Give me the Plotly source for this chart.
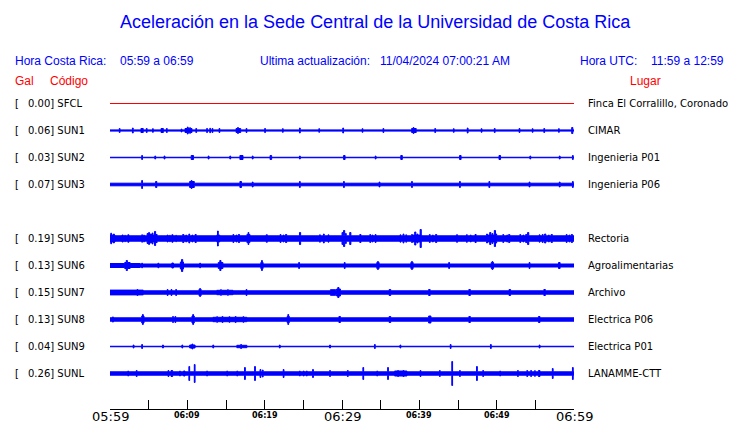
import plotly.graph_objects as go

# ---------------- data ----------------
codes = ["SFCL", "SUN1", "SUN2", "SUN3", "SUN5", "SUN6", "SUN7", "SUN8", "SUN9", "SUNL"]
gal = [0.00, 0.06, 0.03, 0.07, 0.19, 0.13, 0.15, 0.13, 0.04, 0.26]
places = ["Finca El Corralillo, Coronado", "CIMAR", "Ingenieria P01", "Ingenieria P06",
          "Rectoria", "Agroalimentarias", "Archivo", "Electrica P06", "Electrica P01", "LANAMME-CTT"]
slots = [0, 1, 2, 3, 5, 6, 7, 8, 9, 10]          # row slot (slot 4 empty)
base_amp = [0.0, 0.6, 0.25, 1.3, 2.7, 1.5, 1.7, 1.7, 0.25, 1.7]   # quiet half-amplitude (px)

tick_minutes = [0, 5, 10, 15, 20, 25, 30, 35, 40, 45, 50, 55, 60]
tick_labels = ["05:59", "", "06:09", "", "06:19", "", "06:29", "", "06:39", "", "06:49", "", "06:59"]
big_ticks = ["05:59", "06:29", "06:59"]

# bursts: (start minute, end minute, half-amplitude px)
ev_sfcl = []
ev_sun1 = [(1.2, 1.3, 2), (2.9, 3.0, 2.5), (4.0, 4.3, 2), (4.7, 4.8, 2), (5.5, 5.6, 1.8), (6.6, 6.9, 2),
           (7.3, 7.4, 2), (9.2, 9.3, 1.5), (9.7, 10.6, 2.0), (10.0, 10.1, 3.5), (10.3, 10.4, 2.8),
           (11.1, 11.2, 2), (12.5, 12.6, 2), (12.9, 13.0, 2.2), (13.2, 13.3, 2), (14.1, 14.2, 2),
           (16.3, 16.9, 2.0), (16.5, 16.6, 3), (17.6, 17.7, 2), (20.0, 20.1, 2), (22.3, 22.4, 1.8),
           (24.5, 24.6, 2.5), (27.0, 27.1, 1.8), (30.1, 30.2, 2.5), (32.6, 32.7, 1.8), (35.3, 35.4, 2),
           (39.0, 39.6, 2.0), (39.2, 39.3, 3), (42.0, 42.1, 2), (44.4, 44.5, 1.8), (46.2, 46.3, 2.5),
           (48.0, 48.1, 1.8), (49.7, 49.8, 2), (52.9, 53.0, 2), (54.6, 54.7, 1.8), (56.1, 56.2, 2),
           (58.0, 58.1, 1.8), (59.7, 59.85, 3)]
ev_sun2 = [(4.1, 4.2, 2), (5.8, 5.9, 1.5), (7.0, 7.1, 1.5), (10.5, 10.8, 2), (12.7, 12.8, 1.5),
           (15.5, 15.6, 1.5), (16.8, 17.2, 2), (18.4, 18.5, 1.5), (20.7, 20.9, 2), (24.5, 24.6, 1.5),
           (30.2, 30.4, 2), (34.3, 34.4, 1.5), (37.6, 37.8, 2), (45.2, 45.4, 2), (50.3, 50.5, 2),
           (54.3, 54.4, 1.5), (58.1, 58.2, 1.5), (59.8, 59.9, 2)]
ev_sun3 = [(4.1, 4.2, 4), (5.9, 6.05, 3), (10.3, 10.9, 3), (10.5, 10.6, 4), (16.8, 17.0, 3), (18.4, 18.5, 2.5),
           (24.5, 24.6, 3), (30.2, 30.3, 3), (34.8, 34.9, 2.5), (39.0, 39.1, 3), (45.2, 45.3, 3),
           (49.0, 49.1, 3), (54.2, 54.3, 2.5), (58.1, 58.2, 2.5), (59.8, 59.9, 3)]
ev_sun5 = [(0.0, 0.65, 3.5), (0.1, 0.2, 5.3), (0.45, 0.55, 4.5),
           (1.55, 1.7, 3.5), (1.9, 2.0, 3.2), (2.3, 2.45, 3.7),
           (4.1, 4.2, 3.7), (4.35, 4.45, 3.4),
           (4.8, 6.1, 3.4), (4.8, 4.95, 5), (5.0, 5.1, 6), (5.2, 5.35, 4.5), (5.45, 5.55, 5.5),
           (5.75, 5.9, 7), (5.95, 6.1, 4),
           (7.4, 7.5, 3.5), (7.7, 7.8, 3.2), (8.0, 8.15, 3.7), (8.5, 8.6, 3.2),
           (9.4, 9.55, 4), (9.8, 9.9, 3.5), (10.2, 10.3, 4.5), (10.6, 10.7, 3.5), (11.0, 11.15, 4),
           (13.8, 14.2, 3.4), (13.9, 14.0, 7.5),
           (15.9, 16.0, 4), (16.3, 16.4, 3.5), (16.6, 16.75, 4),
           (17.7, 17.8, 4), (17.85, 17.95, 6), (18.0, 18.1, 4),
           (20.2, 20.35, 3.7), (22.0, 22.1, 4), (22.4, 22.5, 3.5), (22.7, 22.85, 4),
           (24.5, 24.65, 6), (27.1, 27.2, 3.7), (27.6, 27.7, 4.5), (28.2, 28.3, 3.7),
           (30.0, 30.1, 6), (30.2, 30.35, 8), (30.45, 30.55, 5), (31.0, 31.15, 6), (32.3, 32.45, 4),
           (33.6, 33.7, 4), (33.9, 34.0, 3.5), (34.3, 34.4, 4),
           (37.5, 37.6, 3.7), (37.9, 38.0, 4.5), (38.25, 38.35, 3.7),
           (39.0, 40.3, 3.4), (39.0, 39.1, 4), (39.4, 39.55, 6.5), (39.7, 39.8, 4.5), (40.1, 40.25, 9),
           (41.3, 41.4, 4), (41.7, 41.8, 3.5), (42.1, 42.25, 4),
           (44.8, 44.95, 3.7), (46.1, 46.2, 3.8), (46.6, 46.7, 3.5), (47.2, 47.35, 4),
           (48.7, 50.0, 3.4), (48.7, 48.8, 4.5), (49.1, 49.25, 6), (49.4, 49.5, 5), (49.7, 49.85, 8),
           (49.9, 50.0, 4.5),
           (50.8, 50.9, 4), (51.3, 51.4, 3.5), (51.55, 51.7, 4),
           (53.0, 53.1, 4), (53.4, 53.5, 3.5), (53.75, 53.9, 4), (54.0, 54.15, 6),
           (55.5, 55.6, 3.7), (55.9, 56.0, 4), (56.2, 56.35, 4.5), (56.7, 56.8, 3.5), (57.05, 57.2, 4),
           (59.0, 59.1, 4), (59.35, 59.45, 3.5), (59.65, 59.8, 4)]
ev_sun6 = [(0.0, 3.9, 2.0), (2.1, 2.25, 5), (1.9, 2.6, 3), (4.1, 4.2, 2.3), (6.2, 6.3, 2.3), (8.0, 8.2, 2.5),
           (9.1, 9.5, 3.5), (9.25, 9.4, 6), (11.6, 11.7, 2.3), (14.0, 14.6, 3), (14.2, 14.35, 5),
           (19.5, 19.8, 3), (19.6, 19.7, 5), (24.4, 24.5, 3), (30.3, 30.4, 3), (34.5, 34.8, 3),
           (34.6, 34.7, 4), (38.9, 39.2, 3), (39.0, 39.1, 4), (43.8, 43.9, 3), (49.3, 49.6, 3),
           (49.4, 49.5, 4), (54.2, 54.3, 3), (58.0, 58.2, 3)]
ev_sun7 = [(0.0, 4.3, 2.4), (3.5, 3.6, 3), (7.4, 7.5, 3), (7.9, 8.0, 3), (8.5, 8.6, 3), (11.5, 11.8, 3),
           (11.6, 11.7, 4), (13.8, 15.9, 2.2), (14.3, 14.4, 2.8), (15.2, 15.3, 2.8),
           (17.6, 17.7, 3), (28.5, 29.2, 2.8), (29.3, 29.8, 3.5), (29.45, 29.6, 5), (36.1, 36.3, 3),
           (41.2, 41.4, 3), (46.4, 46.6, 3), (51.6, 51.8, 3), (56.1, 56.3, 3)]
ev_sun8 = [(0.3, 0.45, 2.5), (4.1, 4.4, 3.5), (4.2, 4.3, 5), (8.1, 8.2, 3), (8.4, 8.5, 3), (10.6, 10.9, 3.5),
           (10.7, 10.8, 5), (13.3, 17.7, 2.2), (13.8, 13.9, 2.8), (14.5, 14.6, 3), (15.4, 15.5, 2.8),
           (16.2, 16.3, 3), (17.2, 17.3, 2.8), (22.9, 23.2, 3), (23.0, 23.1, 5),
           (29.6, 29.8, 3), (36.1, 36.3, 3), (41.2, 41.5, 3.5), (46.4, 46.6, 3), (55.4, 55.6, 3)]
ev_sun9 = [(3.0, 3.1, 1.5), (4.1, 4.2, 2), (6.8, 6.9, 1.5), (9.3, 9.4, 1.5), (10.3, 11.0, 1.5), (10.6, 10.7, 2.5),
           (13.3, 13.4, 1.5), (16.4, 17.7, 1.2), (16.9, 17.0, 2), (21.9, 22.0, 1.5), (28.4, 28.5, 1.5),
           (34.2, 34.3, 2), (37.5, 37.6, 1.5), (44.0, 44.1, 2), (49.2, 49.3, 2), (55.5, 55.6, 1.5)]
ev_sunl = [(2.3, 2.4, 2.5), (3.4, 3.5, 3), (7.5, 7.6, 3), (7.9, 8.1, 3), (9.0, 9.1, 2.5), (9.5, 9.7, 2.5),
           (10.2, 10.3, 7), (10.9, 11.0, 9),
           (12.5, 12.6, 2.5), (15.1, 15.2, 2.5), (16.4, 16.5, 2.5), (17.4, 17.5, 6), (18.7, 18.8, 7),
           (19.4, 19.5, 4), (19.7, 19.8, 3.5), (22.4, 22.5, 4), (24.5, 24.6, 2.5), (25.0, 25.1, 2.5),
           (25.4, 25.5, 2.5), (26.2, 26.3, 4), (28.4, 28.5, 3),
           (30.7, 30.8, 3), (32.7, 32.8, 6), (34.5, 34.6, 2.5), (35.9, 36.0, 6), (36.8, 38.4, 2.5),
           (37.2, 37.3, 3), (37.9, 38.0, 3),
           (40.1, 40.2, 3), (42.6, 42.7, 3), (44.2, 44.3, 12), (45.2, 45.3, 3), (47.4, 47.5, 7),
           (48.2, 48.3, 3), (50.4, 50.5, 2.5), (52.7, 52.8, 3), (53.9, 54.0, 3), (54.4, 54.5, 3),
           (54.9, 55.0, 2.8), (55.4, 55.6, 3), (57.2, 57.3, 5),
           (59.8, 59.9, 6)]
events = [ev_sfcl, ev_sun1, ev_sun2, ev_sun3, ev_sun5, ev_sun6, ev_sun7, ev_sun8, ev_sun9, ev_sunl]

# ---------------- layout constants ----------------
OFF = 8                 # page body margin of the browser
W, H = 740 - OFF, 423 - OFF
L = 110 - OFF
T = 90 - OFF
R = W - (574 - OFF)
B = H - (409 - OFF)
ROW = 27
ROW0 = 13.5             # first row center below plot top (px)
plot_w = W - L - R
plot_h = H - T - B
BLUE = "#0000FF"
RED = "#FF0000"


def px(x):              # reference-picture x (px) -> paper
    return (x - OFF - L) / plot_w


def py(y):              # reference-picture y (px) -> paper
    return (H - B - (y - OFF)) / plot_h


def envelope(base, evs, t_end=60.0):
    pts = sorted(set([0.0, t_end] + [e[0] for e in evs] + [e[1] for e in evs]))
    segs = []
    for s, e in zip(pts[:-1], pts[1:]):
        m = 0.5 * (s + e)
        a = max([base] + [ev[2] for ev in evs if ev[0] <= m <= ev[1]])
        segs.append((s, e, a))
    return segs


fig = go.Figure()
for i, code in enumerate(codes):
    yc = slots[i] * ROW
    if code == "SFCL":
        fig.add_trace(go.Scatter(x=[0, 60], y=[yc, yc], mode="lines",
                                 line=dict(color=RED, width=1), hoverinfo="skip", showlegend=False))
        continue
    segs = envelope(base_amp[i], events[i])
    xu, yu = [], []
    for s, e, a in segs:
        xu += [s, e]
        yu += [yc - a, yc - a]
    xl = xu[::-1]
    yl = [2 * yc - v for v in yu[::-1]]
    fig.add_trace(go.Scatter(x=xu + xl, y=yu + yl, mode="lines", fill="toself",
                             fillcolor=BLUE, line=dict(color=BLUE, width=1, simplify=False),
                             hoverinfo="skip", showlegend=False))

fig.update_xaxes(range=[0, 60], tickvals=tick_minutes, ticktext=[""] * len(tick_minutes),
                 ticks="inside", ticklen=9, tickcolor="black", tickwidth=1,
                 showline=True, linecolor="black", linewidth=1, showgrid=False, zeroline=False,
                 showticklabels=False, fixedrange=True)
fig.update_yaxes(range=[plot_h - ROW0, -ROW0], showgrid=False, zeroline=False, showticklabels=False,
                 showline=False, ticks="", fixedrange=True)

ann = []
TF = "Liberation Sans, Arial, sans-serif"
DJ = "DejaVu Sans, sans-serif"
ann.append(dict(x=px(375), y=py(22), text="Aceleración en la Sede Central de la Universidad de Costa Rica",
                font=dict(family=TF, size=18, color=BLUE), xanchor="center", yanchor="middle"))
for xx, txt in [(15, "Hora Costa Rica:"), (120, "05:59 a 06:59"), (260, "Ultima actualización:"),
                (380, "11/04/2024 07:00:21 AM"), (580, "Hora UTC:"), (651, "11:59 a 12:59")]:
    ann.append(dict(x=px(xx - 2), y=py(61), text=txt, font=dict(family=TF, size=12, color=BLUE),
                    xanchor="left", yanchor="middle"))
for xx, txt in [(15, "Gal"), (50, "Código"), (630, "Lugar")]:
    ann.append(dict(x=px(xx - 2), y=py(81), text=txt, font=dict(family=TF, size=12, color=RED),
                    xanchor="left", yanchor="middle"))
for i, code in enumerate(codes):
    yrow = 90 + ROW0 + slots[i] * ROW
    ann.append(dict(x=px(13), y=py(yrow), text="[", font=dict(family=DJ, size=10, color="black"),
                    xanchor="left", yanchor="middle"))
    ann.append(dict(x=px(25.5), y=py(yrow), text=f"{gal[i]:.2f}] {code}",
                    font=dict(family=DJ, size=10, color="black"), xanchor="left", yanchor="middle"))
    ann.append(dict(x=px(585.5), y=py(yrow), text=places[i], font=dict(family=DJ, size=10, color="black"),
                    xanchor="left", yanchor="middle"))
for tv, tl in zip(tick_minutes, tick_labels):
    if not tl:
        continue
    if tl in big_ticks:
        ann.append(dict(x=tv, xref="x", y=py(416.5), text=tl, font=dict(family=DJ, size=13, color="black"),
                        xanchor="center", yanchor="middle"))
    else:
        ann.append(dict(x=tv, xref="x", y=py(415.5), text=f"<b>{tl}</b>", font=dict(family=DJ, size=8, color="black"),
                        xanchor="center", yanchor="middle"))
for a in ann:
    a.setdefault("xref", "paper")
    a["yref"] = "paper"
    a["showarrow"] = False

fig.update_layout(width=W, height=H, margin=dict(l=L, r=R, t=T, b=B, pad=0),
                  paper_bgcolor="white", plot_bgcolor="white", annotations=ann)
fig.write_html("out.html")
